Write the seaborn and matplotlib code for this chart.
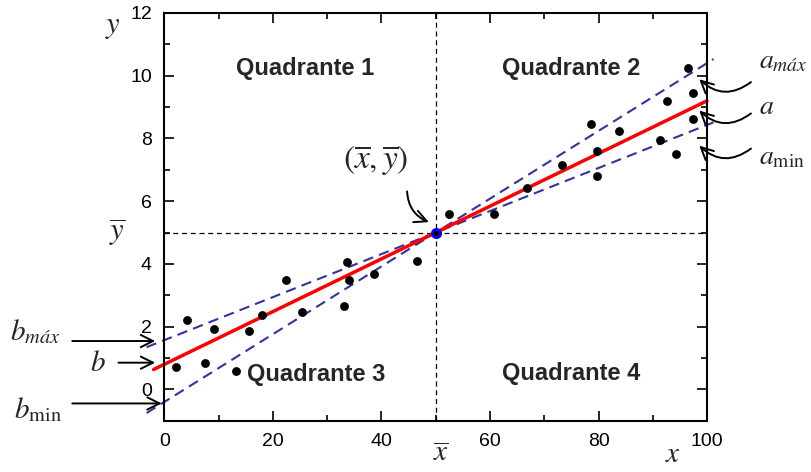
import numpy as np
import matplotlib
matplotlib.use('Agg')
import matplotlib.pyplot as plt
import seaborn as sns

x_pts = [2.2, 4.2, 7.4, 9.2, 13.2, 15.6, 18.0, 22.4, 25.4, 33.0, 33.6, 34.0, 38.6, 46.5,
         52.5, 60.8, 66.9, 73.2, 78.7, 79.7, 79.7, 83.7, 91.3, 92.6, 94.3, 96.5, 97.5, 97.4]
y_pts = [0.70, 2.20, 0.83, 1.91, 0.59, 1.85, 2.36, 3.48, 2.46, 2.67, 4.05, 3.48, 3.67, 4.10,
         5.58, 5.58, 6.43, 7.14, 8.46, 7.60, 6.80, 8.24, 7.96, 9.19, 7.50, 10.26, 9.46, 8.62]

# ponto médio e retas (coeficiente angular a, linear b)
x_mean, y_mean = 50.0, 5.0
a, b = 0.084, 0.80
a_max, b_min = 0.108, -0.40
a_min, b_max = 0.0686, 1.57
x_fit = [-2.0, 100.0]
x_lim_lines = [-3.3, 101.2]

x_ticks = [0, 20, 40, 60, 80, 100]
y_ticks = [0, 2, 4, 6, 8, 10, 12]
quad_labels = ['Quadrante 1', 'Quadrante 2', 'Quadrante 3', 'Quadrante 4']

sns.set_style('ticks')
plt.rcParams['font.family'] = ['Liberation Sans', 'DejaVu Sans']
plt.rcParams['mathtext.fontset'] = 'stix'

fig = plt.figure(figsize=(8.11, 4.72), dpi=100)
ax = fig.add_axes([0.2028, 0.1087, 0.6690, 0.8638])

ax.axvline(x_mean, color='black', lw=0.9, ls=(0, (4, 3)))
ax.axhline(y_mean, color='black', lw=0.9, ls=(0, (4, 3)))

xl = np.array(x_lim_lines)
xf = np.array(x_fit)
sns.lineplot(x=xl, y=a_max * xl + b_min, ax=ax, color='#33339a', lw=1.5,
             linestyle=(0, (5, 3)), clip_on=False)
sns.lineplot(x=xl, y=a_min * xl + b_max, ax=ax, color='#33339a', lw=1.5,
             linestyle=(0, (5, 3)), clip_on=False)
sns.lineplot(x=xf, y=a * xf + b, ax=ax, color='red', lw=2.5, clip_on=False)

sns.scatterplot(x=x_pts, y=y_pts, ax=ax, color='black', s=34, edgecolor='black', zorder=4)
ax.plot([x_mean], [y_mean], 'o', ms=6, mfc='black', mec='blue', mew=2, zorder=5, clip_on=False)

ax.set_xlim(0, 100)
ax.set_ylim(-1, 12)
ax.set_xticks(x_ticks)
ax.set_yticks(y_ticks)
ax.set_xticks(np.arange(10, 100, 20), minor=True)
ax.set_yticks(np.arange(-1, 12, 2), minor=True)
ax.tick_params(which='both', direction='in', top=True, right=True, labelsize=14,
               width=1.2, pad=9, color='black', labelcolor='black')
ax.tick_params(which='major', length=7)
ax.tick_params(which='minor', length=4)
for s in ax.spines.values():
    s.set_linewidth(1.5)
    s.set_color('black')

qpos = [(26, 10.23), (75, 10.23), (28, 0.46), (75, 0.51)]
for lbl, (qx, qy) in zip(quad_labels, qpos):
    ax.text(qx, qy, lbl, ha='center', va='center', fontsize=17, fontweight='bold')

# rótulos dos eixos (estilo Times itálico)
big = 22
ax.text(-9.5, 11.6, r'$y$', ha='center', va='center', fontsize=big)
ax.text(-8.8, 5.0, r'$\overline{y}$', ha='center', va='center', fontsize=big)
ax.text(51, -2.05, r'$\overline{x}$', ha='center', va='center', fontsize=21)
ax.text(93.7, -2.05, r'$x$', ha='center', va='center', fontsize=21)
ax.text(39, 7.3, r'$\left(\overline{x},\overline{y}\right)$', ha='center', va='center', fontsize=24)

arr = dict(arrowstyle='->', color='black', lw=1.4, mutation_scale=22)
ax.annotate('', xy=(49.2, 5.3), xytext=(44.7, 6.4), annotation_clip=False,
            arrowprops=dict(arr, connectionstyle='arc3,rad=0.35'))

# coeficientes angulares (direita)
right_lbls = [(r'$a_{máx}$', 9.95, 10.45), (r'$a$', 8.95, 9.0), (r'$a_{\mathrm{min}}$', 7.83, 7.4)]
for lbl, yh, yt in right_lbls:
    ax.annotate('', xy=(98.2, yh), xytext=(108.5, yh - 0.1), annotation_clip=False,
                arrowprops=dict(arr, connectionstyle='arc3,rad=-0.45'))
    ax.text(109.6, yt, lbl, ha='left', va='center', fontsize=20)

# coeficientes lineares (esquerda)
left_lbls = [(r'$b_{máx}$', 1.54, 1.85, -17.5, -23.8), (r'$b$', 0.85, 0.85, -9.0, -12.3),
             (r'$b_{\mathrm{min}}$', -0.45, -0.65, -17.5, -23.3)]
for lbl, yh, yt, xtail, xt in left_lbls:
    ax.annotate('', xy=(-1.2 if yh > 0 else 0.0, yh), xytext=(xtail, yh), annotation_clip=False,
                arrowprops=dict(arr))
    ax.text(xt, yt, lbl, ha='center', va='center', fontsize=21)

ax.set_xlabel('')
ax.set_ylabel('')
fig.savefig('out.png', dpi=100)
